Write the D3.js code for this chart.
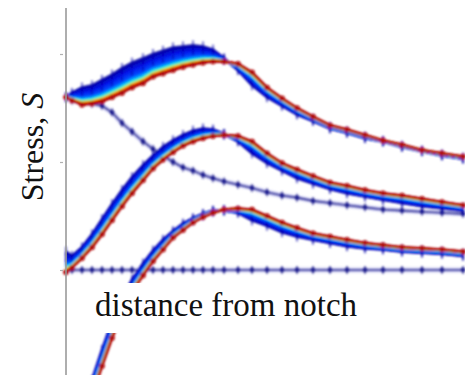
<!DOCTYPE html>
<html><head><meta charset="utf-8">
<script src="https://cdn.jsdelivr.net/npm/d3@7"></script>
<style>body{margin:0;background:#fff}svg{display:block}
.lbl{font-family:"Liberation Serif","DejaVu Serif",serif;fill:#111}</style>
</head><body>
<script>
// ---- data ----
const distance = [0,0.06,0.16,0.26,0.36,0.46,0.56,0.66,0.77,0.87,0.97,1.07,1.17,1.27,1.37,1.47,1.58,1.72,1.86,2.01,2.16,2.31,2.47,2.64,2.81,2.99,3.17,3.36,3.56,3.76,3.97];
const yTicks = [0, 1, 2];
const topFinal  = [1.60,1.57,1.53,1.54,1.56,1.60,1.64,1.69,1.73,1.79,1.82,1.85,1.88,1.90,1.92,1.93,1.93,1.91,1.83,1.69,1.59,1.50,1.42,1.34,1.30,1.25,1.20,1.16,1.11,1.08,1.05];
const topSpread = [1.60,1.64,1.69,1.71,1.76,1.81,1.87,1.92,1.96,2.00,2.03,2.06,2.07,2.08,2.07,2.04,1.96,1.85,1.71,1.60,1.52,1.44,1.38,1.31,1.27,1.22,1.19,1.14,1.10,1.06,1.03];
const midFinal  = [-0.02,0.02,0.11,0.21,0.33,0.46,0.59,0.71,0.83,0.94,1.02,1.09,1.15,1.19,1.22,1.24,1.25,1.24,1.19,1.08,0.99,0.93,0.87,0.81,0.78,0.74,0.71,0.69,0.66,0.63,0.60];
const midSpread = [0.17,0.13,0.21,0.33,0.47,0.61,0.74,0.86,0.97,1.06,1.14,1.20,1.25,1.29,1.31,1.30,1.26,1.19,1.08,0.99,0.92,0.85,0.80,0.75,0.71,0.68,0.65,0.62,0.59,0.57,0.55];
const botFinal  = [null,null,null,-1.16,-0.89,-0.63,-0.40,-0.20,-0.05,0.08,0.19,0.30,0.37,0.44,0.49,0.53,0.56,0.57,0.56,0.50,0.44,0.39,0.34,0.31,0.28,0.25,0.23,0.21,0.20,0.19,0.17];
const botSpread = [null,null,null,-1.02,-0.74,-0.48,-0.27,-0.09,0.06,0.18,0.28,0.36,0.43,0.48,0.52,0.55,0.55,0.53,0.46,0.41,0.35,0.31,0.28,0.25,0.22,0.20,0.19,0.17,0.16,0.15,0.13];
const decay     = [1.60,1.57,1.55,1.54,1.52,1.46,1.36,1.28,1.19,1.12,1.06,1.00,0.95,0.92,0.88,0.85,0.82,0.79,0.76,0.72,0.69,0.67,0.64,0.62,0.60,0.58,0.56,0.55,0.54,0.53,0.52];
const flat      = [0,0,0,0,0,0,0,0,0,0,0,0,0,0,0,0,0,0,0,0,0,0,0,0,0,0,0,0,0,0,0];
const xLabel = "distance from notch";
const yLabel = "Stress, ";
const yLabelSym = "S";

// ---- chart ----
const W = 465, H = 375;
const svg = d3.select("body").append("svg").attr("width", W).attr("height", H);
const x = d3.scaleLinear().domain([0, 4]).range([66, 466]);
const y = d3.scaleLinear().domain([0, 2]).range([270, 54]);

const defs = svg.append("defs");
defs.append("clipPath").attr("id", "clip").append("rect")
  .attr("x", 61).attr("y", 0).attr("width", W - 61).attr("height", H);
const f = defs.append("filter").attr("id", "blur").attr("x", "-5%").attr("y", "-5%").attr("width", "110%").attr("height", "110%");
f.append("feGaussianBlur").attr("stdDeviation", 0.85);

const jet = d3.scaleLinear()
  .domain([0, 0.06, 0.12, 0.18, 0.26, 0.4, 0.7, 1])
  .range(["#a80000", "#ff2000", "#ffd000", "#60ffa0", "#00c8ff", "#0050ff", "#0010e8", "#00009a"])
  .interpolate(d3.interpolateRgb);

const plot = svg.append("g").attr("clip-path", "url(#clip)").append("g").attr("filter", "url(#blur)");

const line = d3.line().defined(d => d[1] != null).x(d => x(d[0])).y(d => y(d[1])).curve(d3.curveLinear);
const pts = arr => distance.map((d, i) => [d, arr[i]]);

function blueCurve(arr) {
  const p = pts(arr);
  plot.append("path").attr("d", line(p)).attr("fill", "none")
    .attr("stroke", "#8a8ae0").attr("stroke-width", 5).attr("opacity", 0.45);
  plot.append("path").attr("d", line(p)).attr("fill", "none")
    .attr("stroke", "#1c1c8e").attr("stroke-width", 1.6);
  const g = plot.append("g");
  g.selectAll("line").data(p.slice(1)).join("line")
    .attr("x1", d => x(d[0])).attr("x2", d => x(d[0]))
    .attr("y1", d => y(d[1]) - 4).attr("y2", d => y(d[1]) + 4)
    .attr("stroke", "#1c1c8e").attr("stroke-width", 1.6).attr("opacity", 0.75);
  g.selectAll("circle").data(p.slice(1)).join("circle")
    .attr("cx", d => x(d[0])).attr("cy", d => y(d[1])).attr("r", 2.4).attr("fill", "#1c1c8e");
}

function bandCurve(fin, spr) {
  const N = 22;
  for (let k = N; k >= 0; k--) {
    const t = k / N;
    const p = distance.map((d, i) => [d, fin[i] == null ? null : fin[i] + t * (spr[i] - fin[i])]);
    plot.append("path").attr("d", line(p)).attr("fill", "none")
      .attr("stroke", jet(t)).attr("stroke-width", 2.6).attr("opacity", t > 0.5 ? 0.85 : 1);
    if (k === N || k === Math.round(N * 0.72) || k === Math.round(N * 0.45)) {
      plot.append("g").selectAll("line").data(p.filter(d => d[1] != null)).join("line")
        .attr("x1", d => x(d[0])).attr("x2", d => x(d[0]))
        .attr("y1", d => y(d[1]) - 5).attr("y2", d => y(d[1]) + 5)
        .attr("stroke", "#0000a8").attr("stroke-width", 2.2).attr("opacity", 0.5);
    }
  }
  const p = pts(fin).filter(d => d[1] != null);
  plot.append("path").attr("d", line(pts(fin))).attr("fill", "none")
    .attr("stroke", "#b00000").attr("stroke-width", 1.8);
  plot.append("g").selectAll("circle").data(p).join("circle")
    .attr("cx", d => x(d[0])).attr("cy", d => y(d[1])).attr("r", 2.8).attr("fill", "#b00808");
}

blueCurve(flat);
blueCurve(decay);
bandCurve(botFinal, botSpread);
bandCurve(midFinal, midSpread);
bandCurve(topFinal, topSpread);

// axis
svg.append("line").attr("x1", 66).attr("x2", 66).attr("y1", 8).attr("y2", H)
  .attr("stroke", "#9a9a9a").attr("stroke-width", 1.6);
const ax = svg.append("g").attr("transform", "translate(63,0)")
  .call(d3.axisLeft(y).tickValues(yTicks).tickSize(3).tickFormat(""));
ax.select(".domain").remove();
ax.selectAll(".tick line").attr("stroke", "#b0b0b0").attr("stroke-width", 1.2);

// x label with white box
svg.append("rect").attr("x", 86).attr("y", 283).attr("width", 278).attr("height", 50).attr("fill", "#fff");
svg.append("text").attr("class", "lbl").attr("x", 95).attr("y", 316)
  .style("font-size", "33px").text(xLabel);

// y label
const yl = svg.append("text").attr("class", "lbl").attr("transform", "translate(43,147) rotate(-90)")
  .attr("text-anchor", "middle").style("font-size", "32px");
yl.append("tspan").text(yLabel);
yl.append("tspan").style("font-style", "italic").text(yLabelSym);
</script>
</body></html>
